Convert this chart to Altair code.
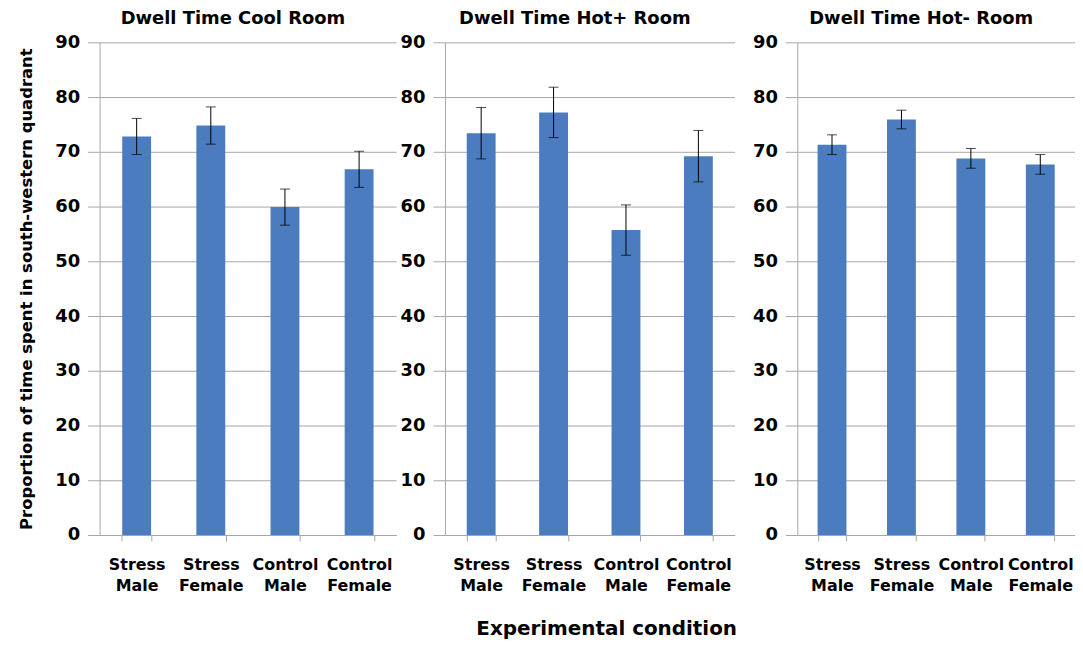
import altair as alt
import pandas as pd

rooms = ["Dwell Time Cool Room", "Dwell Time Hot+ Room", "Dwell Time Hot- Room"]
conditions = ["Stress Male", "Stress Female", "Control Male", "Control Female"]

cool_means = [72.8, 74.8, 59.9, 66.8]
cool_err = [3.3, 3.4, 3.3, 3.3]
hotplus_means = [73.4, 77.2, 55.7, 69.2]
hotplus_err = [4.7, 4.6, 4.6, 4.7]
hotminus_means = [71.3, 75.9, 68.8, 67.7]
hotminus_err = [1.8, 1.7, 1.8, 1.8]

y_ticks = [0, 10, 20, 30, 40, 50, 60, 70, 80, 90]

means_by_room = [cool_means, hotplus_means, hotminus_means]
err_by_room = [cool_err, hotplus_err, hotminus_err]

FONT = "DejaVu Sans"
BAR = "#4a7cbf"
GRID = "#a6a6a6"

widths = [298, 291, 279]
panels = []
for i, room in enumerate(rooms):
    df = pd.DataFrame({
        "condition": conditions,
        "mean": means_by_room[i],
        "err": err_by_room[i],
    })
    df["lo"] = df["mean"] - df["err"]
    df["hi"] = df["mean"] + df["err"]

    yaxis = alt.Axis(
        values=y_ticks,
        title="Proportion of time spent in south-western quadrant" if i == 0 else None,
        titleFont=FONT, titleFontSize=16.5, titleFontWeight="bold", titleColor="black",
        titlePadding=20,
        labelFont=FONT, labelFontSize=18, labelFontWeight="bold", labelColor="black",
        labelPadding=8, tickSize=12, tickColor=GRID, domainColor=GRID,
        gridColor=GRID, gridWidth=1,
    )
    xaxis = alt.Axis(
        title=None, labelAngle=0, tickBand="extent", tickSize=6, tickColor=GRID,
        domainColor=GRID, labelFont=FONT, labelFontSize=16, labelFontWeight="bold",
        labelColor="black", labelPadding=16, labelLineHeight=21,
        labelExpr="split(datum.label, ' ')", grid=False,
    )
    xenc = alt.X("condition:N", sort=conditions, axis=xaxis,
                 scale=alt.Scale(paddingInner=0.6, paddingOuter=0.3))
    yscale = alt.Scale(domain=[0, 90], nice=False)

    base = alt.Chart(df)
    bars = base.mark_bar(color=BAR, width=29).encode(
        x=xenc, y=alt.Y("mean:Q", scale=yscale, axis=yaxis))
    rule = base.mark_rule(color="black", strokeWidth=1).encode(
        x=xenc, y="lo:Q", y2="hi:Q")
    cap_lo = base.mark_tick(color="black", size=10, thickness=1, orient="horizontal").encode(
        x=xenc, y="lo:Q")
    cap_hi = base.mark_tick(color="black", size=10, thickness=1, orient="horizontal").encode(
        x=xenc, y="hi:Q")

    panel = alt.layer(bars, rule, cap_lo, cap_hi).properties(
        width=widths[i], height=495,
        title=alt.TitleParams(room, font=FONT, fontSize=18, fontWeight="bold",
                              color="black", offset=5, anchor="middle", dx=-15),
    )
    panels.append(panel)

left_pair = alt.hconcat(panels[0], panels[1], spacing=3)
chart = alt.hconcat(left_pair, panels[2], spacing=17).properties(
    padding={"left": 10, "right": 0, "top": 1, "bottom": 0},
    title=alt.TitleParams("Experimental condition", orient="bottom", anchor="middle",
                          font=FONT, fontSize=20, fontWeight="bold", color="black",
                          offset=25, dx=60),
).configure_view(strokeWidth=0, stroke="transparent")

chart.save("out.html", embed_options={"renderer": "svg", "actions": False})
